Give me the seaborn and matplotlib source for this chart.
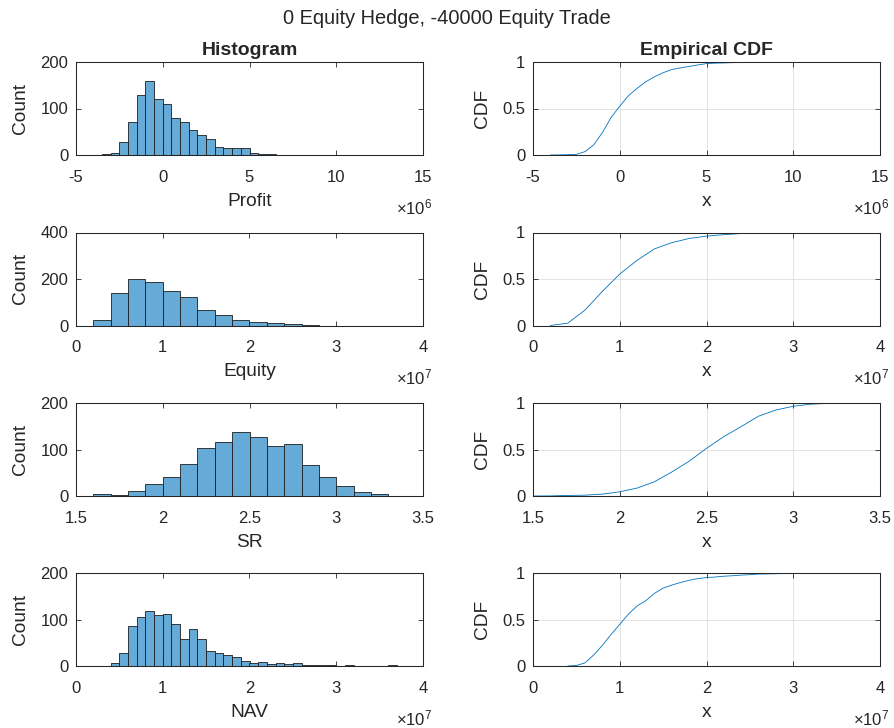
import numpy as np
import pandas as pd
import matplotlib
matplotlib.use("Agg")
import matplotlib.pyplot as plt
from matplotlib.ticker import FuncFormatter, FixedLocator
import seaborn as sns

# ---- data: histogram counts per bin (bin start, bin width, counts) ----
profit_start, profit_width = -4.0e6, 0.5e6
profit_counts = [1, 2, 4, 29, 72, 130, 160, 121, 110, 79, 70, 53, 43, 34, 17, 16,
                 16, 14, 5, 2, 3, 1, 1, 1, 1, 0, 0, 1, 0, 1, 0, 0, 1]

equity_start, equity_width = 0.2e7, 0.2e7
equity_counts = [25, 141, 200, 186, 148, 122, 67, 45, 25, 16, 12, 7, 4]

sr_start, sr_width = 1.5, 0.1
sr_counts = [1, 5, 3, 11, 25, 40, 68, 104, 116, 138, 126, 107, 112, 66, 40, 22, 9, 4]

nav_start, nav_width = 0.4e7, 0.1e7
nav_counts = [6, 28, 87, 105, 119, 110, 112, 90, 57, 80, 58, 33, 28, 24, 19, 11, 6,
              9, 5, 7, 5, 6, 2, 2, 2, 2, 0, 2, 0, 0, 0, 0, 2]

variables = ["Profit", "Equity", "SR", "NAV"]
x_limits = [(-5e6, 15e6), (0, 4e7), (1.5, 3.5), (0, 4e7)]
x_ticks = [[-5e6, 0, 5e6, 10e6, 15e6], [0, 1e7, 2e7, 3e7, 4e7],
           [1.5, 2.0, 2.5, 3.0, 3.5], [0, 1e7, 2e7, 3e7, 4e7]]
x_exponents = [6, 7, None, 7]
count_limits = [200, 400, 200, 200]
cdf_ticks = [0, 0.5, 1]

title = "0 Equity Hedge, -40000 Equity Trade"

# ---- style ----
sns.set_theme(style="ticks")
ink = "#262626"
plt.rcParams.update({
    "axes.edgecolor": ink,
    "axes.linewidth": 0.75,
    "axes.labelcolor": ink,
    "text.color": ink,
    "xtick.color": ink,
    "ytick.color": ink,
    "xtick.labelsize": 12,
    "ytick.labelsize": 12,
    "axes.labelsize": 13.8,
    "xtick.major.pad": 10.5,
    "ytick.major.pad": 5.5,
    "mathtext.fontset": "custom",
    "mathtext.rm": "Liberation Sans",
    "mathtext.it": "Liberation Sans:italic",
    "mathtext.bf": "Liberation Sans:bold",
})
plt.rcParams["font.family"] = ["Liberation Sans", "DejaVu Sans"]

bar_face = "#66AAD7"
bar_edge = "#1c1c1c"
line_color = "#0072BD"
grid_color = "#dedede"

W, H = 894, 728
fig = plt.figure(figsize=(W / 100, H / 100), dpi=100)

col_left = [76, 533]
col_width = 347
row_top = [62, 232.5, 403, 573]
row_height = 93

datasets = [
    (profit_start, profit_width, profit_counts),
    (equity_start, equity_width, equity_counts),
    (sr_start, sr_width, sr_counts),
    (nav_start, nav_width, nav_counts),
]


def make_axes(col, row):
    left = col_left[col] / W
    bottom = 1 - (row_top[row] + row_height) / H
    return fig.add_axes([left, bottom, col_width / W, row_height / H])


def style_axes(ax, row, ylim, yticks):
    lo, hi = x_limits[row]
    ax.set_xlim(lo, hi)
    ax.set_ylim(*ylim)
    ax.xaxis.set_major_locator(FixedLocator(x_ticks[row]))
    ax.yaxis.set_major_locator(FixedLocator(yticks))
    exp = x_exponents[row]
    scale = 10.0 ** exp if exp else 1.0
    ax.xaxis.set_major_formatter(FuncFormatter(lambda v, p, s=scale: f"{v / s:g}"))
    ax.yaxis.set_major_formatter(FuncFormatter(lambda v, p: f"{v:g}"))
    ax.tick_params(direction="in", top=True, right=True, length=3.5, width=0.6)
    for sp in ax.spines.values():
        sp.set_visible(True)
        sp.set_color(ink)
        sp.set_linewidth(0.75)
    if exp:
        ax.annotate(f"×10$^{{{exp}}}$", xy=(1, 0), xycoords="axes fraction",
                    xytext=(6.5, -42.5), textcoords="offset points",
                    ha="right", va="baseline", fontsize=12, color=ink)


for row, (start, width, counts) in enumerate(datasets):
    counts = np.asarray(counts, dtype=float)
    edges = start + width * np.arange(len(counts) + 1)
    centers = (edges[:-1] + edges[1:]) / 2
    hist_df = pd.DataFrame({"value": centers, "count": counts})

    # histogram panel
    ax = make_axes(0, row)
    sns.histplot(data=hist_df, x="value", weights="count", bins=list(edges), ax=ax,
                 color=bar_face, alpha=1.0, edgecolor=bar_edge, linewidth=0.6)
    lim = count_limits[row]
    style_axes(ax, row, (0, lim), [0, lim / 2, lim])
    ax.set_xlabel(variables[row], labelpad=6)
    ax.set_ylabel("Count", labelpad=8)
    if row == 0:
        ax.set_title("Histogram", fontweight="bold", fontsize=14, pad=5)

    # empirical CDF panel built from the same counts
    ax2 = make_axes(1, row)
    cdf_df = pd.DataFrame({
        "x": edges,
        "cdf": np.concatenate([[0.0], np.cumsum(counts) / counts.sum()]),
    })
    ax2.set_axisbelow(True)
    ax2.grid(True, color=grid_color, linewidth=0.6)
    sns.lineplot(data=cdf_df, x="x", y="cdf", ax=ax2, color=line_color,
                 linewidth=0.6, estimator=None, sort=False)
    style_axes(ax2, row, (0, 1), cdf_ticks)
    ax2.set_xlabel("x", labelpad=6)
    ax2.set_ylabel("CDF", labelpad=8)
    if row == 0:
        ax2.set_title("Empirical CDF", fontweight="bold", fontsize=14, pad=5)

fig.text(0.5, 1 - 19 / H, title, ha="center", va="center", fontsize=14.4)

fig.savefig("out.png", dpi=100, facecolor="white")
